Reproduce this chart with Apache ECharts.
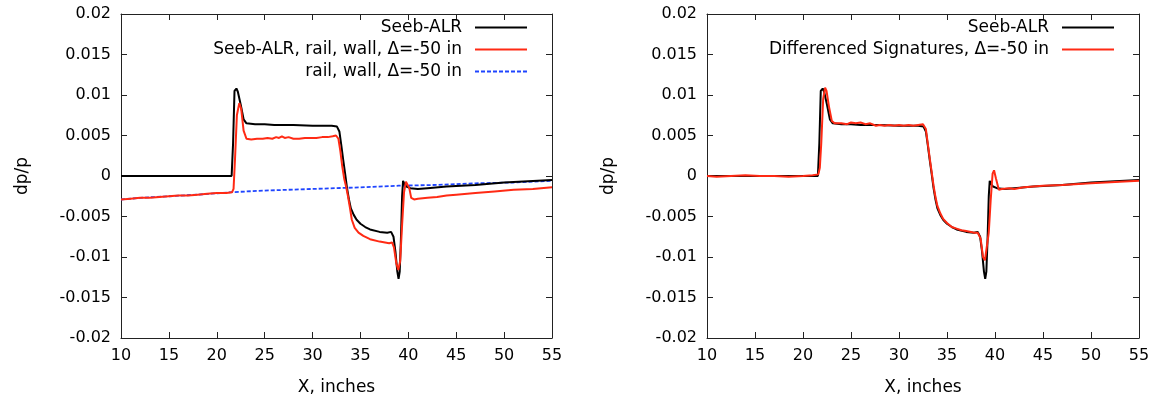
<!DOCTYPE html>
<html>
<head>
<meta charset="utf-8">
<script src="https://cdn.jsdelivr.net/npm/echarts@6/dist/echarts.min.js"></script>
<style>
html,body{margin:0;padding:0;background:#fff;}
#c{width:1157px;height:401px;}
</style>
</head>
<body>
<div id="c"></div>
<script>
// ---- data (x in inches, y in dp/p) ----
const seebX = [10, 15, 20, 21.55, 21.7, 21.85, 22.05, 22.2, 22.5, 22.8, 23.1, 24, 25, 26, 28, 30, 31, 32, 32.55, 32.8, 33.0, 33.2, 33.4, 33.6, 33.8, 34.0, 34.3, 34.6, 35.0, 35.5, 36, 37, 37.8, 38.2, 38.45, 38.65, 38.85, 38.98, 39.1, 39.22, 39.35, 39.45, 39.6, 39.8, 40.2, 41, 42, 44, 47, 50, 55];
const seebY = [0, 0, 0, 0, 0.004, 0.0105, 0.0108, 0.0104, 0.0088, 0.0070, 0.0065, 0.0064, 0.0064, 0.0063, 0.0063, 0.0062, 0.0062, 0.0062, 0.0061, 0.0055, 0.0038, 0.0020, 0.0003, -0.0015, -0.0029, -0.0040, -0.0048, -0.0054, -0.0059, -0.0063, -0.0066, -0.0069, -0.0070, -0.0069, -0.0075, -0.0093, -0.0118, -0.0127, -0.0118, -0.0080, -0.0025, -0.0006, -0.0010, -0.0013, -0.0015, -0.0016, -0.0015, -0.0013, -0.0011, -0.0008, -0.0005];

const railSeebX = [10, 11, 12, 13, 14, 15, 16, 17, 18, 19, 20, 21, 21.6, 21.75, 21.9, 22.1, 22.35, 22.55, 22.8, 23.1, 23.6, 24.2, 24.8, 25.3, 25.8, 26.2, 26.5, 26.8, 27.1, 27.5, 28.0, 28.6, 29.2, 29.8, 30.4, 31.0, 31.6, 32.1, 32.45, 32.7, 32.9, 33.1, 33.3, 33.5, 33.7, 33.9, 34.1, 34.4, 34.8, 35.3, 36, 37, 38, 38.3, 38.5, 38.75, 38.95, 39.15, 39.35, 39.55, 39.75, 39.9, 40.1, 40.3, 40.6, 41, 42, 43, 44, 45, 47, 49, 51, 53, 55];
const railSeebY = [-0.0029, -0.0028, -0.0027, -0.0027, -0.0026, -0.0025, -0.0024, -0.0024, -0.0023, -0.0022, -0.0021, -0.0021, -0.0020, -0.0016, 0.0020, 0.0075, 0.0090, 0.0083, 0.0056, 0.0046, 0.0045, 0.0046, 0.0046, 0.0047, 0.0046, 0.0048, 0.0047, 0.0049, 0.0047, 0.0048, 0.0046, 0.0046, 0.0047, 0.0047, 0.0047, 0.0048, 0.0048, 0.0049, 0.0050, 0.0046, 0.0031, 0.0012, -0.0003, -0.0013, -0.0025, -0.0039, -0.0054, -0.0064, -0.0070, -0.0074, -0.0078, -0.0081, -0.0083, -0.0082, -0.0088, -0.0108, -0.0116, -0.0105, -0.0060, -0.0020, -0.0007, -0.0006, -0.0015, -0.0027, -0.0029, -0.0028, -0.0027, -0.0026, -0.0024, -0.0023, -0.0021, -0.0019, -0.0017, -0.0016, -0.0014];

const railX = [10, 12, 15, 18, 21.6, 25, 30, 35, 39, 43, 47, 51, 55];
const railY = [-0.0029, -0.0027, -0.0025, -0.0023, -0.0020, -0.0018, -0.0016, -0.0014, -0.0012, -0.0011, -0.0009, -0.0008, -0.0006];

const diffX = [10, 11, 12.5, 14, 15.5, 17, 18.5, 20, 21, 21.6, 21.75, 21.9, 22.1, 22.3, 22.45, 22.7, 23.0, 23.3, 24, 24.6, 25, 25.5, 26, 26.5, 27, 27.6, 28, 28.5, 29, 29.5, 30, 30.5, 31, 31.5, 32, 32.5, 32.8, 33.0, 33.2, 33.4, 33.6, 33.8, 34.0, 34.3, 34.6, 35.0, 35.5, 36, 36.5, 37, 37.5, 37.8, 38.2, 38.5, 38.75, 38.95, 39.15, 39.35, 39.55, 39.75, 39.9, 40.1, 40.4, 40.7, 41.5, 42, 43, 44, 45, 47, 50, 53, 55];
const diffY = [0, -0.0001, 0, 0.0001, 0, 0, -0.0001, 0, 0.0001, 0.0002, 0.0010, 0.0040, 0.0095, 0.0109, 0.0105, 0.0086, 0.0068, 0.0065, 0.0065, 0.0064, 0.0066, 0.0065, 0.0066, 0.0064, 0.0065, 0.0062, 0.0063, 0.0062, 0.0063, 0.0062, 0.0063, 0.0062, 0.0063, 0.0062, 0.0063, 0.0064, 0.0058, 0.0040, 0.0022, 0.0005, -0.0012, -0.0026, -0.0037, -0.0046, -0.0053, -0.0058, -0.0063, -0.0065, -0.0067, -0.0068, -0.0069, -0.0070, -0.0070, -0.0077, -0.0100, -0.0104, -0.0102, -0.0070, -0.0030, 0.0003, 0.0007, -0.0003, -0.0017, -0.0016, -0.0015, -0.0016, -0.0014, -0.0013, -0.0012, -0.0011, -0.0009, -0.0007, -0.0006];

const xTicks = [10, 55, 5];      // min, max, interval
const yTicks = [-0.02, 0.02, 0.005];

const names = {
  seeb: 'Seeb-ALR',
  railSeeb: 'Seeb-ALR, rail, wall, \u0394=-50 in',
  rail: 'rail, wall, \u0394=-50 in',
  diff: 'Differenced Signatures, \u0394=-50 in'
};

// ---- chart ----
const FONT = 'DejaVu Sans';
const pairs = (xs, ys) => xs.map((x, i) => [x, ys[i]]);
const yFmt = v => {
  const r = Math.round(v * 1000) / 1000;
  return r === 0 ? '0' : String(+r.toFixed(3));
};

const lineAxis = { show: true, onZero: false, lineStyle: { color: '#222', width: 1 } };
const tick = { show: true, inside: true, length: 6, lineStyle: { color: '#222', width: 1 } };

function xAxes(gi) {
  return [
    { type: 'value', gridIndex: gi, position: 'bottom', min: xTicks[0], max: xTicks[1], interval: xTicks[2],
      axisLine: lineAxis, axisTick: tick, splitLine: { show: false },
      axisLabel: { color: '#000', fontFamily: FONT, fontSize: 16, margin: 10 },
      name: 'X, inches', nameLocation: 'middle', nameGap: 41,
      nameTextStyle: { color: '#000', fontFamily: FONT, fontSize: 17 } },
    { type: 'value', gridIndex: gi, position: 'top', min: xTicks[0], max: xTicks[1], interval: xTicks[2],
      axisLine: lineAxis, axisTick: tick, splitLine: { show: false }, axisLabel: { show: false } }
  ];
}
function yAxes(gi) {
  return [
    { type: 'value', gridIndex: gi, position: 'left', min: yTicks[0], max: yTicks[1], interval: yTicks[2],
      axisLine: lineAxis, axisTick: tick, splitLine: { show: false },
      axisLabel: { color: '#000', fontFamily: FONT, fontSize: 16, margin: 10, formatter: yFmt },
      name: 'dp/p', nameLocation: 'middle', nameGap: 90, nameRotate: 90,
      nameTextStyle: { color: '#000', fontFamily: FONT, fontSize: 17 } },
    { type: 'value', gridIndex: gi, position: 'right', min: yTicks[0], max: yTicks[1], interval: yTicks[2],
      axisLine: lineAxis, axisTick: tick, splitLine: { show: false }, axisLabel: { show: false } }
  ];
}

function ser(name, data, xi, yi, color, width, type) {
  return {
    name, type: 'line', xAxisIndex: xi, yAxisIndex: yi, data,
    symbol: 'none', smooth: false, animation: false,
    lineStyle: { color, width, type: type || 'solid' },
    itemStyle: { color }, z: 2
  };
}

const RED = '#ff2a14', BLACK = '#000000', BLUE = '#1f45ff';

function leg(name, right, top) {
  return {
    data: [name], right, top, orient: 'vertical', align: 'right',
    itemWidth: 52, itemHeight: 12, selectedMode: false,
    itemStyle: { opacity: 0, borderWidth: 0 },
    textStyle: { color: '#000', fontFamily: FONT, fontSize: 17, padding: [0, 8, 0, 0] }
  };
}

const option = {
  animation: false,
  backgroundColor: '#fff',
  grid: [
    { left: 121, top: 14, width: 431, height: 325 },
    { left: 707, top: 14, width: 432, height: 325 }
  ],
  xAxis: [...xAxes(0), ...xAxes(1)],
  yAxis: [...yAxes(0), ...yAxes(1)],
  legend: [
    leg(names.seeb, 624, 14),
    leg(names.railSeeb, 624, 36),
    leg(names.rail, 624, 58),
    leg(names.seeb, 37, 14),
    leg(names.diff, 37, 36)
  ],
  series: [
    ser(names.rail, pairs(railX, railY), 0, 0, BLUE, 1.8, [4, 2]),
    ser(names.railSeeb, pairs(railSeebX, railSeebY), 0, 0, RED, 2),
    ser(names.seeb, pairs(seebX, seebY), 0, 0, BLACK, 2),
    ser(names.seeb, pairs(seebX, seebY), 2, 2, BLACK, 2),
    ser(names.diff, pairs(diffX, diffY), 2, 2, RED, 2)
  ]
};
option.series[1].z = 3;
option.series[4].z = 3;

const chart = echarts.init(document.getElementById('c'), null, { renderer: 'canvas' });
chart.setOption(option);
</script>
</body>
</html>
